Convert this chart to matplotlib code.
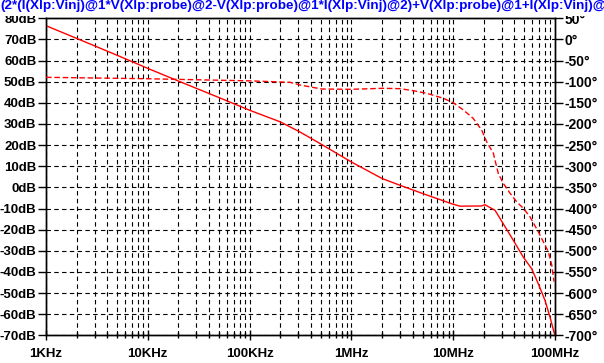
import matplotlib
matplotlib.use("Agg")
import matplotlib.pyplot as plt
from matplotlib.patches import Rectangle
from matplotlib.font_manager import FontProperties
from matplotlib.ticker import LogLocator, FixedLocator, FixedFormatter, NullFormatter

# ---- data ----
mag_freq = [1e3, 2e3, 5e3, 1e4, 2e4, 5e4, 1e5, 2e5, 3.1e5, 4.9e5, 1e6, 2e6, 3e6, 5e6,
            1e7, 1.17e7, 1.9e7, 2.05e7, 2.58e7, 3.1e7, 3.89e7, 4.88e7, 5.9e7, 6.85e7,
            7.98e7, 8.93e7, 9.78e7, 1e8]
mag_db = [76.5, 70.5, 62.5, 56.3, 50.3, 42.5, 36.5, 31.0, 26.3, 20.8, 12.0, 4.2, 1.0, -2.9,
          -8.0, -8.9, -8.8, -8.2, -10.9, -17.2, -25.0, -33.0, -38.5, -45.6,
          -53.5, -61.4, -68.5, -70.0]

ph_freq = [1e3, 1e4, 1e5, 2.5e5, 3.13e5, 5.1e5, 1e6, 2.05e6, 3e6, 4.06e6, 5.5e6, 8e6,
           1e7, 1.26e7, 1.57e7, 1.9e7, 2.13e7, 2.48e7, 2.77e7, 3.1e7, 3.62e7, 4.2e7,
           4.88e7, 5.67e7, 6.85e7, 7.67e7, 8.59e7, 9.29e7, 9.78e7]
ph_deg = [-89.6, -93.0, -98.0, -101.5, -107.8, -117.3, -118.0, -115.6, -116.5, -121.3,
          -127.5, -139.3, -149.7, -167.0, -186.6, -214.0, -242.0, -269.4, -316.7, -340.4,
          -364.0, -384.0, -399.5, -419.4, -455.0, -478.5, -502.0, -533.7, -573.0]

x_ticks = [1e3, 1e4, 1e5, 1e6, 1e7, 1e8]
x_labels = ["1KHz", "10KHz", "100KHz", "1MHz", "10MHz", "100MHz"]
db_ticks = [80, 70, 60, 50, 40, 30, 20, 10, 0, -10, -20, -30, -40, -50, -60, -70]
deg_ticks = [50, 0, -50, -100, -150, -200, -250, -300, -350, -400, -450, -500, -550,
             -600, -650, -700]
title = "(2*(I(Xlp:Vinj)@1*V(Xlp:probe)@2-V(Xlp:probe)@1*I(Xlp:Vinj)@2)+V(Xlp:probe)@1+I(Xlp:Vinj)@2)"

# ---- style ----
FONT = dict(family="Liberation Sans", weight="bold", size=9.5)
RED = "#ff0000"

fig = plt.figure(figsize=(6.04, 3.63), dpi=100, facecolor="white")
ax = fig.add_axes([46/604, 1 - 335.3/363, (555-46)/604, (335.3-18.3)/363])
ax.set_facecolor("white")

ax.set_xscale("log")
ax.set_xlim(1e3, 1e8)
ax.set_ylim(-70, 80)

ax.xaxis.set_major_locator(FixedLocator(x_ticks))
ax.xaxis.set_major_formatter(FixedFormatter(x_labels))
ax.xaxis.set_minor_locator(LogLocator(base=10, subs=range(2, 10), numticks=50))
ax.xaxis.set_minor_formatter(NullFormatter())
ax.yaxis.set_major_locator(FixedLocator(db_ticks))
ax.yaxis.set_major_formatter(FixedFormatter([f"{v}dB" for v in db_ticks]))

grid_kw = dict(color="black", linewidth=0.8, linestyle=(0, (4, 3)))
ax.grid(True, which="major", axis="both", **grid_kw)
ax.grid(True, which="minor", axis="x", **grid_kw)

for s in ax.spines.values():
    s.set_color("black")
    s.set_linewidth(1.0)

ax.tick_params(axis="y", which="major", direction="out", length=6, width=1, pad=1,
               colors="black")
ax.tick_params(axis="x", which="major", direction="inout", length=7, width=1, pad=6,
               colors="black")
ax.tick_params(axis="x", which="minor", direction="inout", length=5, width=1,
               colors="black")
for lab in ax.get_xticklabels() + ax.get_yticklabels():
    lab.set_fontproperties(FontProperties(**FONT))

ax.plot(mag_freq, mag_db, color=RED, linewidth=1.0, zorder=3)

ax2 = ax.twinx()
ax2.set_ylim(-700, 50)
ax2.yaxis.set_major_locator(FixedLocator(deg_ticks))
ax2.yaxis.set_major_formatter(FixedFormatter([f"{v}°" for v in deg_ticks]))
ax2.tick_params(axis="y", which="major", direction="out", length=6, width=1, pad=1,
                colors="black")
for lab in ax2.get_yticklabels():
    lab.set_fontproperties(FontProperties(family="Liberation Sans", weight="bold", size=10))
for s in ax2.spines.values():
    s.set_color("black")
    s.set_linewidth(1.0)
ax2.plot(ph_freq, ph_deg, color=RED, linewidth=1.0, linestyle=(0, (4, 2)), zorder=3)

# white title band that hides the tops of the first tick labels
fig.patches.append(Rectangle((0, 1 - 16/363), 1, 16/363, transform=fig.transFigure,
                             facecolor="white", edgecolor="none", zorder=5))
fig.text(0.0, 1 - 0.5/363, title, ha="left", va="top", color="#0000ff",
         family="Liberation Sans", weight="bold", size=9.7, zorder=6)

fig.savefig("out.png", dpi=100, facecolor="white")
